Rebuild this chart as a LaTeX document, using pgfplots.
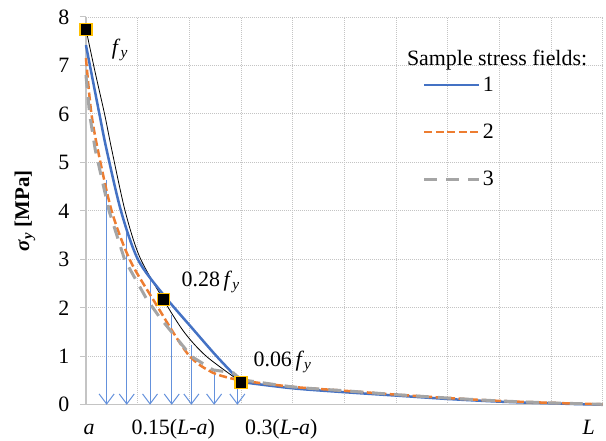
\documentclass[border=0pt]{standalone}
\usepackage{fontspec}
\setmainfont{Liberation Serif}
\usepackage{pgfplots}
\pgfplotsset{compat=1.18}
\usetikzlibrary{arrows.meta}
\definecolor{s1}{HTML}{4472C4}
\definecolor{s2}{HTML}{ED7D31}
\definecolor{s3}{HTML}{A5A5A5}
\definecolor{arr}{RGB}{100,145,220}
\definecolor{gold}{HTML}{FFC000}
\definecolor{gridc}{HTML}{C4C4C4}
\begin{document}
\begin{tikzpicture}
\begin{axis}[
  scale only axis, width=517bp, height=388bp,
  xmin=0, xmax=10, ymin=0, ymax=8,
  axis x line*=bottom, axis y line*=left,
  axis line style={gridc, line width=1.3bp, -},
  xtick={0,...,10}, xticklabels={},
  xtick style={draw=none},
  ytick={0,...,8},
  yticklabels={0,1,2,3,4,5,6,7,8},
  major tick length=6bp,
  tick align=outside,
  ytick style={gridc, line width=1bp},
  grid=major,
  major grid style={gridc, line width=0.9bp, dash pattern=on 1bp off 1bp},
  yticklabel style={font=\fontsize{22}{24}\selectfont, xshift=-7bp},
  ylabel={\textbf{\textit{σ}\textsubscript{\textit{y}} [MPa]}},
  ylabel style={at={(axis description cs:-0.118,0.5)}, anchor=center, font=\fontsize{21}{24}\selectfont},
  clip=false,
  legend style={at={(axis description cs:0.652,0.85)}, anchor=north west, draw=none, fill=none,
    font=\fontsize{22}{26}\selectfont, row sep=27bp, inner sep=0pt, outer sep=0pt},
  legend image code/.code={\draw[#1] (0bp,0bp) -- (55bp,0bp);},
  legend cell align=left,
]
% arrows
\addplot[arr, line width=1bp, -{Straight Barb[length=10bp,width=15bp]}, forget plot] coordinates {(0.40,4.64) (0.40,0)};
\addplot[arr, line width=1bp, -{Straight Barb[length=10bp,width=15bp]}, forget plot] coordinates {(0.79,3.55) (0.79,0)};
\addplot[arr, line width=1bp, -{Straight Barb[length=10bp,width=15bp]}, forget plot] coordinates {(1.24,2.62) (1.24,0)};
\addplot[arr, line width=1bp, -{Straight Barb[length=10bp,width=15bp]}, forget plot] coordinates {(1.66,1.86) (1.66,0)};
\addplot[arr, line width=1bp, -{Straight Barb[length=10bp,width=15bp]}, forget plot] coordinates {(2.04,1.24) (2.04,0)};
\addplot[arr, line width=1bp, -{Straight Barb[length=10bp,width=15bp]}, forget plot] coordinates {(2.48,0.72) (2.48,0)};
\addplot[arr, line width=1bp, -{Straight Barb[length=10bp,width=15bp]}, forget plot] coordinates {(2.93,0.55) (2.93,0)};
% reference envelope
\addplot[black, line width=0.8bp, smooth, forget plot] coordinates {
 (0,7.75) (0.18,6.85) (0.36,6.0) (0.5,5.26) (0.76,3.99) (1.04,3.05) (1.5,2.17) (1.9,1.5) (2.33,1.0) (3,0.47)};
% series 1
\addplot[s1, line width=2.5bp, smooth] coordinates {
 (0,7.42) (0.26,6.0) (0.4,5.26) (0.68,3.99) (1.01,2.99) (1.5,2.27) (2.08,1.55) (2.53,1.0) (3,0.47)};
\addlegendentry{1}
\addplot[s1, line width=2.5bp, smooth, forget plot] coordinates {
 (3,0.47) (4,0.34) (5,0.26) (6,0.19) (7,0.12) (8,0.065) (9,0.03) (10,0.0)};
% series 2
\addplot[s2, line width=2.5bp, dash pattern=on 8bp off 3.5bp, smooth] coordinates {
 (0,7.15) (0.1,6.05) (0.23,5.26) (0.5,3.99) (0.85,2.99) (1.33,2.12) (1.97,1.05) (2.46,0.66) (3,0.5)};
\addlegendentry{2}
\addplot[s2, line width=2.5bp, dash pattern=on 8bp off 3.5bp, smooth, forget plot] coordinates {
 (3,0.5) (4,0.37) (5,0.29) (6,0.21) (7,0.14) (8,0.08) (9,0.04) (10,0.01)};
% series 3
\addplot[s3, line width=3bp, dash pattern=on 13bp off 9bp] coordinates {
 (0,6.8) (0.07,6.0) (0.18,5.26) (0.45,3.99) (0.75,2.99) (1.17,2.19) (1.43,1.8) (2.04,1.0) (2.46,0.72) (2.85,0.66) (3,0.52)};
\addlegendentry{3}
\addplot[s3, line width=3bp, dash pattern=on 13bp off 9bp, smooth, forget plot] coordinates {
 (3,0.52) (4,0.37) (5,0.29) (6,0.21) (7,0.14) (8,0.08) (9,0.04) (10,0.01)};
% key points
\addplot[only marks, mark=square*, mark size=6bp, mark options={fill=black, draw=gold, line width=1.2bp}, forget plot]
 coordinates {(0,7.75) (1.5,2.17) (3,0.465)};
% annotations
\node[anchor=base west, inner sep=0pt, font=\fontsize{22}{26}\selectfont] at (axis cs:0.50,7.22) {\textit{f}\textsubscript{\textit{y}}};
\node[anchor=base west, inner sep=0pt, font=\fontsize{22}{26}\selectfont] at (axis cs:1.85,2.44) {0.28\,\textit{f}\textsubscript{\textit{y}}};
\node[anchor=base west, inner sep=0pt, font=\fontsize{22}{26}\selectfont] at (axis cs:3.24,0.79) {0.06\,\textit{f}\textsubscript{\textit{y}}};
\node[anchor=base west, inner sep=0pt, font=\fontsize{22}{26}\selectfont] at (axis cs:6.21,7.0) {Sample stress fields:};
% x labels
\node[anchor=base, inner sep=0pt, font=\fontsize{22}{26}\selectfont] at (axis cs:0.06,-0.62) {\textit{a}};
\node[anchor=base, inner sep=0pt, font=\fontsize{22}{26}\selectfont] at (axis cs:1.69,-0.62) {0.15(\textit{L}-\textit{a})};
\node[anchor=base, inner sep=0pt, font=\fontsize{22}{26}\selectfont] at (axis cs:3.78,-0.62) {0.3(\textit{L}-\textit{a})};
\node[anchor=base, inner sep=0pt, font=\fontsize{22}{26}\selectfont] at (axis cs:9.73,-0.62) {\textit{L}};
% page extent
\path (rel axis cs:0,0) ++(-86bp,-36bp) rectangle ++(606bp,441bp);
\end{axis}
\end{tikzpicture}
\end{document}
